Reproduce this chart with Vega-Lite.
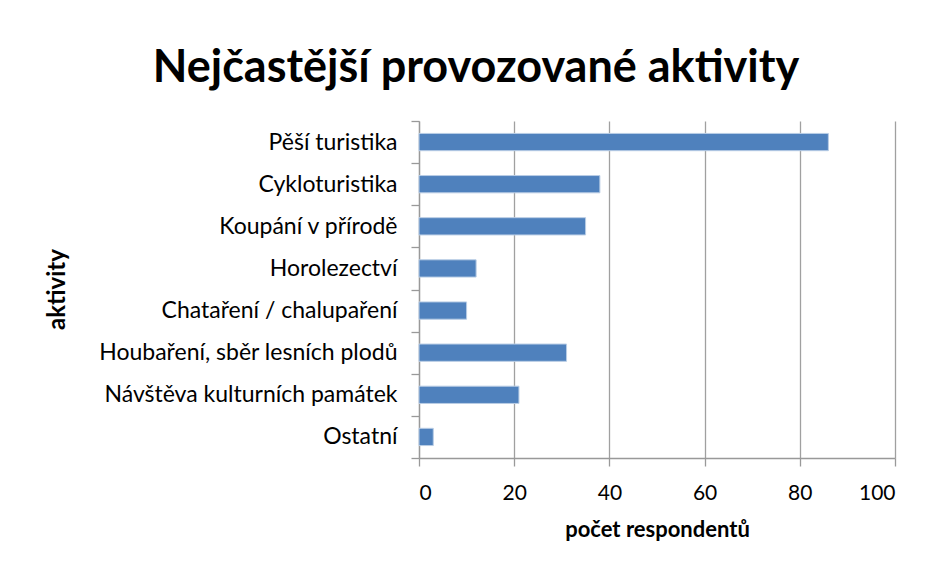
{
  "$schema": "https://vega.github.io/schema/vega-lite/v6.json",
  "width": 476,
  "height": 337,
  "autosize": {"type": "none"},
  "padding": {"left": 419, "top": 121, "right": 38, "bottom": 115},
  "background": "white",
  "title": {
    "text": "Nejčastější provozované aktivity",
    "font": "Lato",
    "fontSize": 45,
    "fontWeight": "bold",
    "color": "#000000",
    "anchor": "middle",
    "frame": "group",
    "dx": -181,
    "offset": 19
  },
  "data": {
    "values": [
      {"aktivita": "Pěší turistika", "pocet": 86},
      {"aktivita": "Cykloturistika", "pocet": 38},
      {"aktivita": "Koupání v přírodě", "pocet": 35},
      {"aktivita": "Horolezectví", "pocet": 12},
      {"aktivita": "Chataření / chalupaření", "pocet": 10},
      {"aktivita": "Houbaření, sběr lesních plodů", "pocet": 31},
      {"aktivita": "Návštěva kulturních památek", "pocet": 21},
      {"aktivita": "Ostatní", "pocet": 3}
    ]
  },
  "mark": {"type": "bar", "color": "#4F81BD", "stroke": "#B9CDE5", "strokeWidth": 1, "height": {"band": 0.41}},
  "encoding": {
    "y": {
      "field": "aktivita",
      "type": "nominal",
      "sort": null,
      "scale": {"paddingInner": 0, "paddingOuter": 0},
      "axis": {
        "title": "aktivity",
        "titleFont": "Lato",
        "titleFontSize": 24,
        "titleFontWeight": "bold",
        "titleColor": "#000000",
        "titleX": -362,
        "titleY": 168,
        "titleAngle": -90,
        "titleAlign": "center",
        "titleBaseline": "middle",
        "labelFont": "Lato",
        "labelFontSize": 23,
        "labelLimit": 400,
        "labelColor": "#000000",
        "labelPadding": 14,
        "tickBand": "extent",
        "tickSize": 8,
        "tickColor": "#999999",
        "domainColor": "#999999",
        "domainWidth": 1.3,
        "tickWidth": 1.3
      }
    },
    "x": {
      "field": "pocet",
      "type": "quantitative",
      "scale": {"domain": [0, 100], "nice": false},
      "axis": {
        "title": "počet respondentů",
        "titleFont": "Lato",
        "titleFontSize": 22,
        "titleFontWeight": "bold",
        "titleColor": "#000000",
        "titlePadding": 16,
        "values": [0, 20, 40, 60, 80, 100],
        "labelFont": "Lato",
        "labelFontSize": 21,
        "labelColor": "#000000",
        "labelPadding": 16,
        "tickSize": 8,
        "tickColor": "#999999",
        "tickWidth": 1.3,
        "domainColor": "#999999",
        "domainWidth": 1.3,
        "grid": true,
        "gridColor": "#A0A0A0",
        "gridWidth": 1.3
      }
    }
  },
  "config": {"view": {"stroke": null}}
}
